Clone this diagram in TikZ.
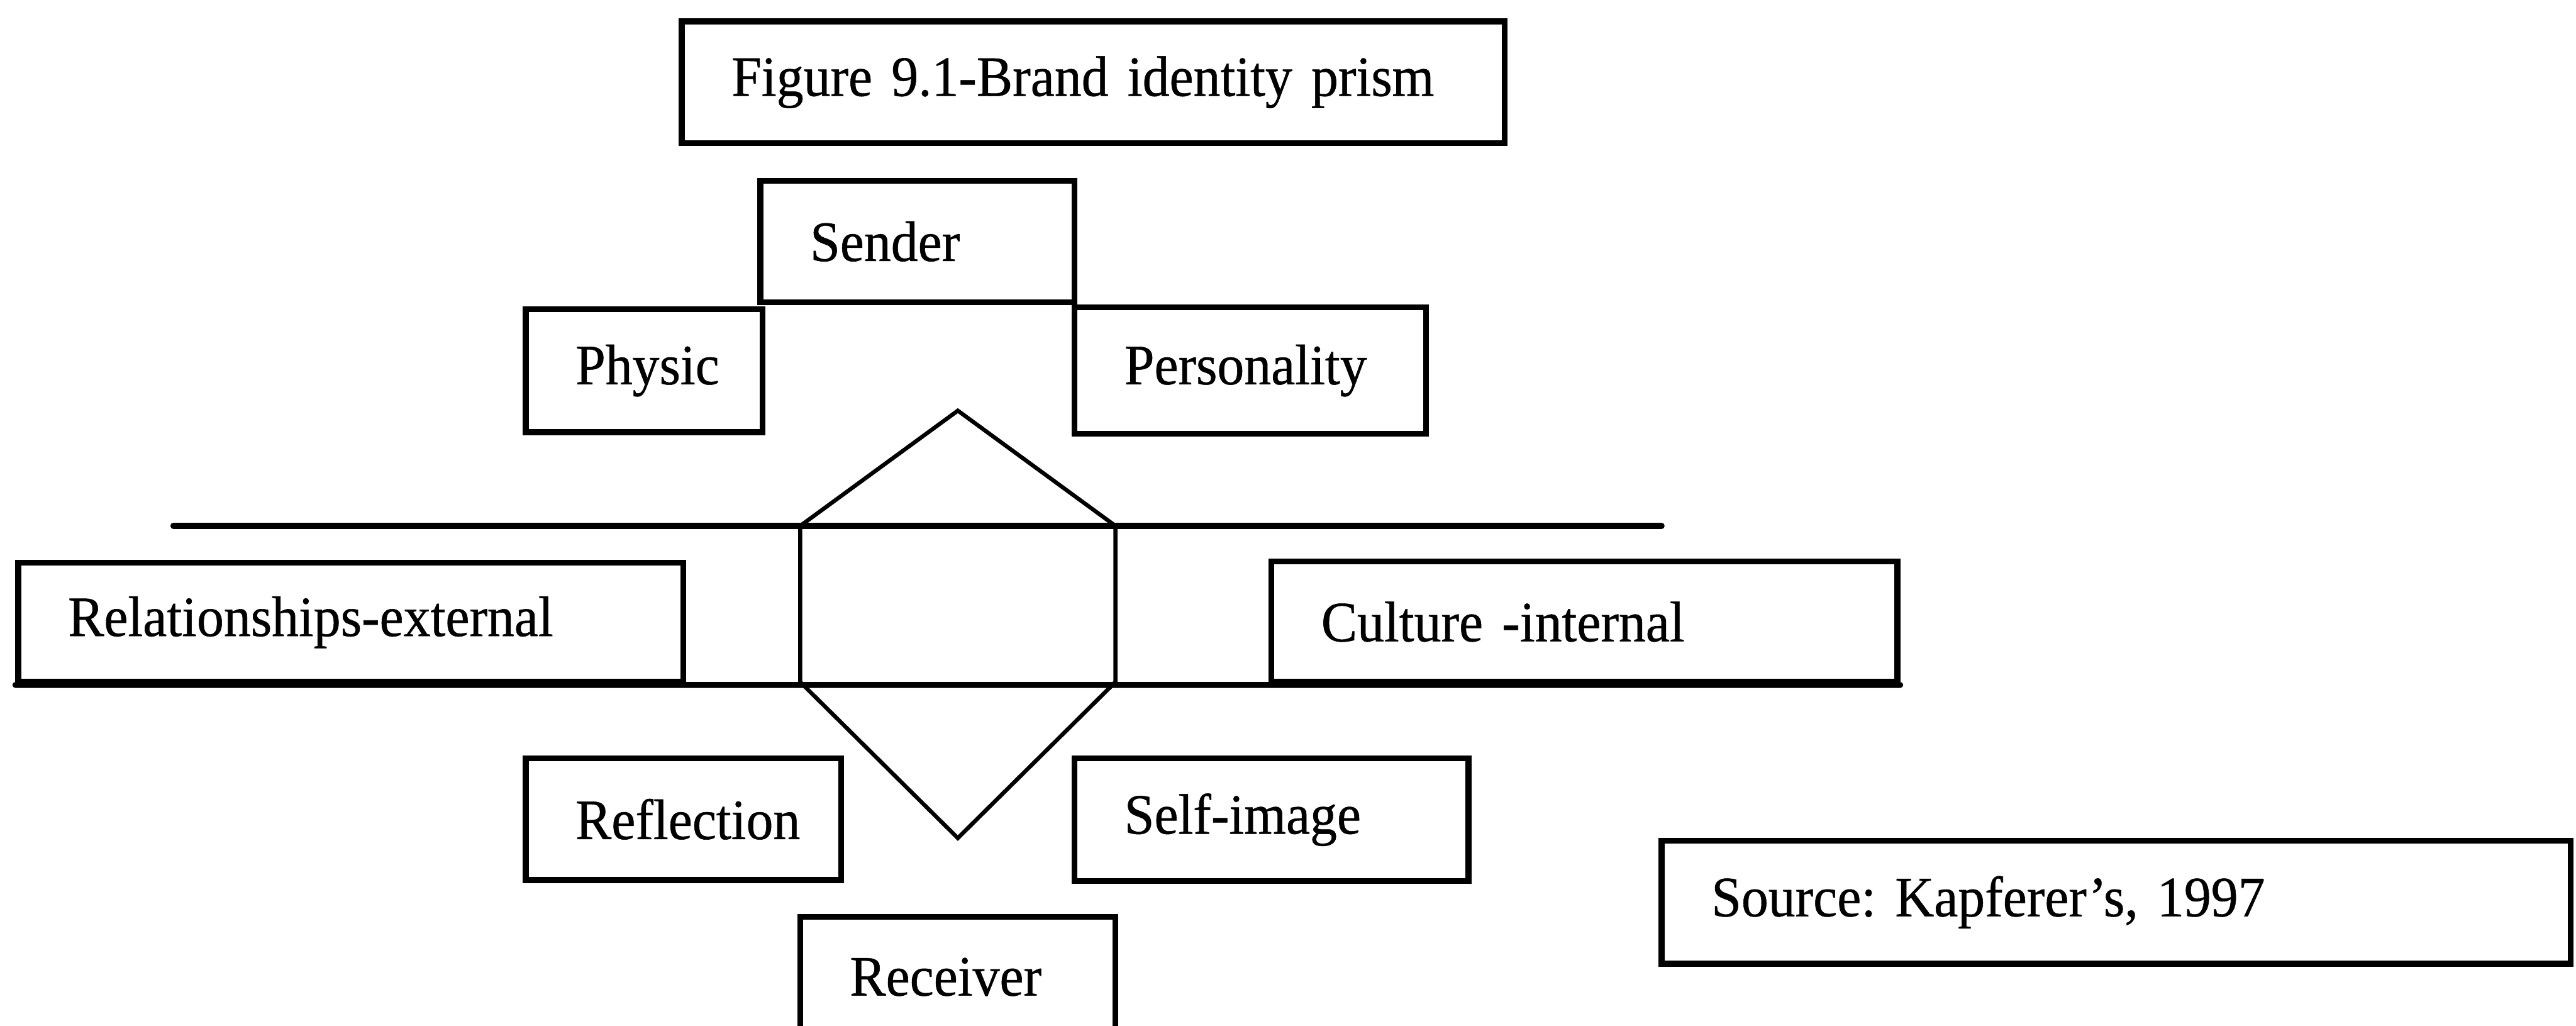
\documentclass[tikz,border=0pt]{standalone}
\usepackage{fontspec}
\setmainfont{Liberation Serif}[FakeStretch=0.945, WordSpace=0.8, FakeBold=0.6]
\usepackage{tikz}
\frenchspacing

\begin{document}
\begin{tikzpicture}[
    box/.style={draw, line width=3.2pt, inner xsep=0.95cm, inner ysep=0pt,
      align=left, font=\fontsize{31}{36}\selectfont},
    rule/.style={line width=3.2pt, line cap=round},
    prism/.style={line width=2.2pt, line join=miter}]
  \useasboundingbox (0,0) rectangle (49.19,19.58);
  % boxes
  \node[box, text width=13.81cm, minimum height=2.32cm] (title) at (20.875,18.01) {Figure 9.1-Brand identity prism};
  \node[box, text width=4.10cm, minimum height=2.32cm] (sender) at (17.52,14.97) {Sender};
  \node[box, text width=2.62cm, minimum height=2.35cm] (physic) at (12.30,12.505) {Physic};
  \node[box, text width=4.81cm, minimum height=2.41cm] (personality) at (23.875,12.505) {Personality};
  \node[box, text width=10.80cm, minimum height=2.28cm] (relation) at (6.70,7.70) {Relationships-external};
  \node[box, text width=10.05cm, minimum height=2.30cm] (culture) at (30.255,7.71) {Culture -internal};
  \node[box, text width=4.12cm, minimum height=2.32cm] (reflection) at (13.05,3.94) {Reflection};
  \node[box, text width=5.62cm, minimum height=2.34cm] (selfimage) at (24.28,3.93) {Self-image};
  \node[box, text width=4.12cm, minimum height=2.30cm] (receiver) at (18.29,0.93) {Receiver};
  \node[box, text width=15.46cm, minimum height=2.35cm] (source) at (40.41,2.355) {Source: Kapferer’s, 1997};
  % prism
  \coordinate (ul) at (3.31,9.54);
  \coordinate (ur) at (31.73,9.54);
  \coordinate (top) at (18.29,11.74);
  \coordinate (bot) at (18.29,3.58);
  \coordinate (hl1) at (15.28,9.54);
  \coordinate (hr1) at (21.30,9.54);
  \coordinate (hl2) at (15.28,6.56);
  \coordinate (hr2) at (21.30,6.56);
  \draw[rule] (ul) -- (ur);
  \draw[rule] (relation.south west) -- (culture.south east);
  \draw[prism] (hl1) -- (top) -- (hr1) -- (hr2) -- (bot) -- (hl2) -- cycle;
\end{tikzpicture}
\end{document}
